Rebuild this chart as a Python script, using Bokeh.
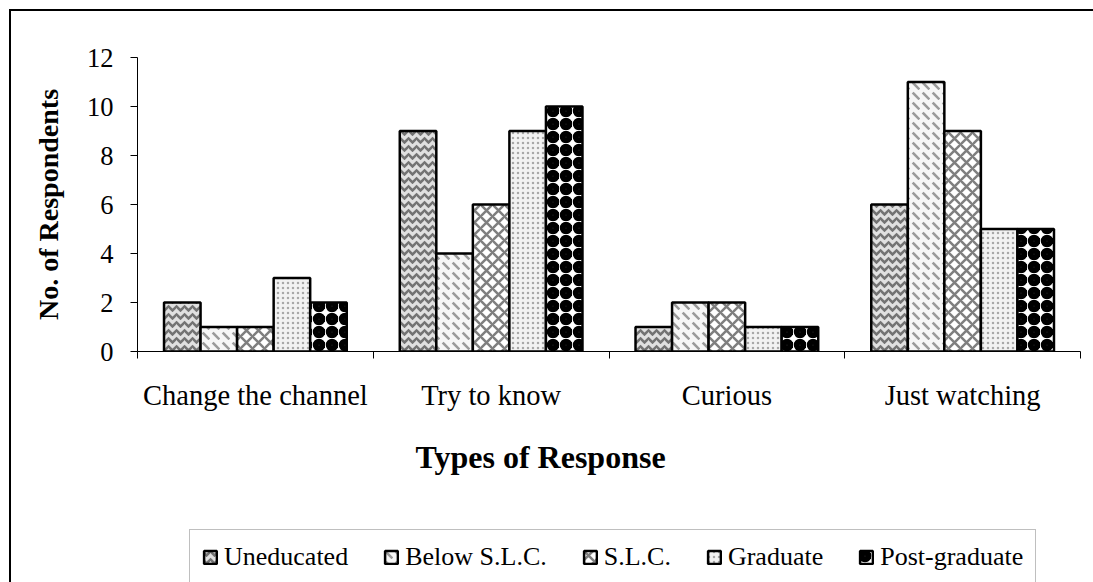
from bokeh.plotting import figure
from bokeh.layouts import column
from bokeh.models import (Range1d, FixedTicker, LinearAxis, Legend, LegendItem,
                          Title, ColumnDataSource)
from bokeh.embed import file_html
from bokeh.resources import INLINE

# ---- data ----
categories = ["Change the channel", "Try to know", "Curious", "Just watching"]
series_names = ["Uneducated", "Below S.L.C.", "S.L.C.", "Graduate", "Post-graduate"]
uneducated = [2, 9, 1, 6]
below_slc = [1, 4, 2, 11]
slc = [1, 6, 2, 9]
graduate = [3, 9, 1, 5]
post_graduate = [2, 10, 1, 5]
y_ticks = [0, 2, 4, 6, 8, 10, 12]

series_values = [uneducated, below_slc, slc, graduate, post_graduate]

styles = [
    dict(fill_color="#e0e0e0", hatch_pattern="v", hatch_color="#737373", hatch_scale=8, hatch_weight=2.5),
    dict(fill_color="#f6f6f6", hatch_pattern="`", hatch_color="#9a9a9a", hatch_scale=10, hatch_weight=2.5),
    dict(fill_color="white", hatch_pattern="x", hatch_color="#7f7f7f", hatch_scale=12, hatch_weight=2.5),
    dict(fill_color="#f2f2f2", hatch_pattern=".", hatch_color="#a8a8a8", hatch_scale=5, hatch_weight=1),
    dict(fill_color="white", hatch_pattern="o", hatch_color="black", hatch_scale=13, hatch_weight=6),
]

FONT = "Liberation Serif"
W = 1093
H_LEG = 60
H_MAIN = 582 - H_LEG

# ---- main chart ----
p = figure(width=W, height=H_MAIN, x_range=Range1d(0, 4), y_range=Range1d(0, 12),
           output_backend="svg", toolbar_location=None,
           x_axis_location=None, y_axis_location=None,
           min_border_left=137, min_border_right=13, min_border_top=57,
           min_border_bottom=H_MAIN - 351)
p.outline_line_color = None
p.grid.visible = False
p.background_fill_color = "white"
p.border_fill_color = None
p.styles = {"box-shadow": "inset 9px 9px 0 0 white, inset 11px 11px 0 0 black"}

# ---- legend strip (its frame is aligned with the main frame by the column) ----
p2 = figure(width=W, height=H_LEG, x_range=Range1d(0, 4), y_range=Range1d(0, 12),
            output_backend="svg", toolbar_location=None,
            x_axis_location=None, y_axis_location=None,
            min_border_left=0, min_border_right=0, min_border_top=0, min_border_bottom=0)
p2.outline_line_color = None
p2.grid.visible = False
p2.background_fill_color = "white"
p2.border_fill_color = None
p2.styles = {"box-shadow": "inset 9px 0 0 0 white, inset 11px 0 0 0 black"}

n = len(series_names)
bw = 0.155
centers = [i + 0.5 for i in range(len(categories))]

items = []
for j, (name, vals) in enumerate(zip(series_names, series_values)):
    xs = [c + (j - (n - 1) / 2) * bw for c in centers]
    src = ColumnDataSource(dict(x=xs, top=vals))
    p.vbar(x="x", top="top", bottom=0, width=bw, source=src,
           line_color="black", line_width=2.5, **styles[j])
    # hidden twin renderer in the legend strip, used only for the legend swatch
    r2 = p2.vbar(x="x", top="top", bottom=0, width=bw, source=src,
                 line_color="black", line_width=2.5, visible=False, **styles[j])
    items.append(LegendItem(label=name, renderers=[r2]))

yaxis = LinearAxis(ticker=FixedTicker(ticks=y_ticks),
                   major_tick_out=7, major_tick_in=0, minor_tick_out=0, minor_tick_in=0,
                   major_label_standoff=17,
                   major_label_text_font=FONT, major_label_text_font_size="26.5px",
                   major_label_text_color="black",
                   axis_label="No. of Respondents", axis_label_text_font=FONT,
                   axis_label_text_font_style="bold", axis_label_text_font_size="28px",
                   axis_label_standoff=20, axis_label_text_color="black",
                   axis_line_color="black", major_tick_line_color="black")
p.add_layout(yaxis, "left")

xaxis = LinearAxis(ticker=FixedTicker(ticks=centers, minor_ticks=list(range(len(categories) + 1))),
                   major_label_overrides={c: cat for c, cat in zip(centers, categories)},
                   major_tick_out=0, major_tick_in=0, minor_tick_out=7, minor_tick_in=0,
                   major_label_standoff=21,
                   major_label_text_font=FONT, major_label_text_font_size="28.5px",
                   major_label_text_color="black",
                   axis_line_color="black", minor_tick_line_color="black")
p.add_layout(xaxis, "below")

xtitle = Title(text="Types of Response", align="left", offset=278, standoff=46,
               text_font=FONT, text_font_style="bold", text_font_size="32px", text_color="black")
p.add_layout(xtitle, "below")

legend = Legend(items=items, orientation="horizontal", location=(52, -3),
                label_text_font=FONT, label_text_font_size="26px", label_text_color="black",
                glyph_width=16, glyph_height=16, label_standoff=6, spacing=35, padding=12,
                margin=0, border_line_color="#808080", border_line_width=1,
                background_fill_color="white", background_fill_alpha=1,
                click_policy="none", inactive_fill_alpha=0)
p2.add_layout(legend, "center")

layout = column(p, p2, spacing=0)
open("out.html", "w").write(file_html(layout, INLINE))
